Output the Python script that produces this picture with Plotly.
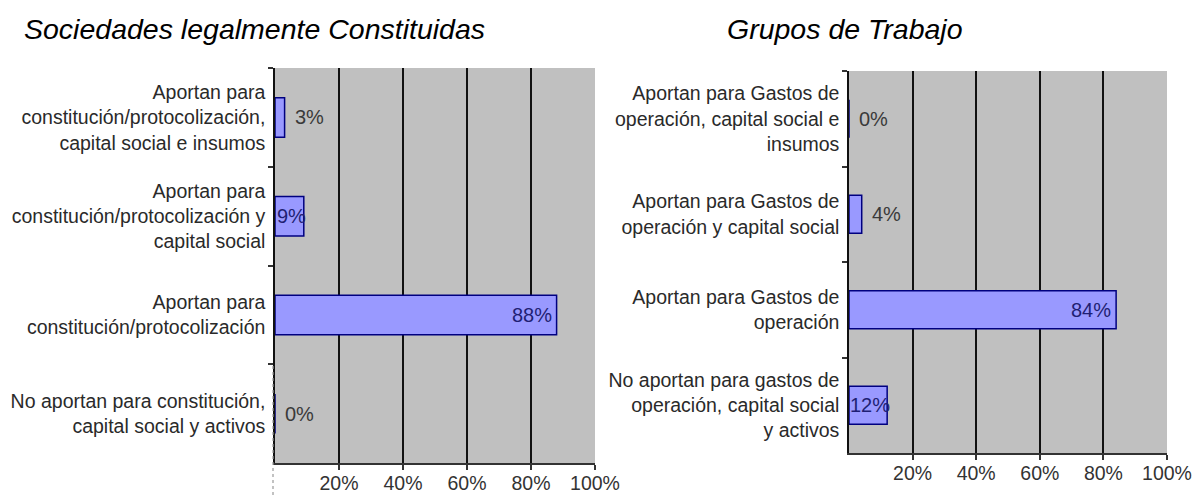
import plotly.graph_objects as go

# --- data -------------------------------------------------------------
title_left = "Sociedades legalmente Constituidas"
title_right = "Grupos de Trabajo"

cats_left = [
    "Aportan para<br>constitución/protocolización,<br>capital social e insumos",
    "Aportan para<br>constitución/protocolización y<br>capital social",
    "Aportan para<br>constitución/protocolización",
    "No aportan para constitución,<br>capital social y activos",
]
vals_left = [3, 9, 88, 0]

cats_right = [
    "Aportan para Gastos de<br>operación, capital social e<br>insumos",
    "Aportan para Gastos de<br>operación y capital social",
    "Aportan para Gastos de<br>operación",
    "No aportan para gastos de<br>operación, capital social<br>y activos",
]
vals_right = [0, 4, 84, 12]

tick_vals = [20, 40, 60, 80, 100]
tick_text = ["20%", "40%", "60%", "80%", "100%"]

# --- styling ----------------------------------------------------------
W, H = 1195, 497
SANS = "Liberation Sans, Arial, sans-serif"
PLOT_BG = "#c0c0c0"
BAR_FILL = "#9999ff"
BAR_LINE = "#000080"


def px_x(a, b):
    return [a / W, b / W]


def px_y(top, bottom):
    return [1 - bottom / H, 1 - top / H]


fig = go.Figure()

fig.add_trace(go.Bar(
    x=vals_left, y=cats_left, orientation="h", width=0.4,
    marker=dict(color=BAR_FILL, line=dict(color=BAR_LINE, width=1.5)),
    xaxis="x", yaxis="y", hoverinfo="skip", showlegend=False,
))
fig.add_trace(go.Bar(
    x=vals_right, y=cats_right, orientation="h", width=0.4,
    marker=dict(color=BAR_FILL, line=dict(color=BAR_LINE, width=1.5)),
    xaxis="x2", yaxis="y2", hoverinfo="skip", showlegend=False,
))


def value_labels(cats, vals, xref, yref):
    out = []
    for c, v in zip(cats, vals):
        txt = f"{v}%"
        if v >= 20:
            x, anchor, shift, col = v, "right", -3, "#1f1f73"
        elif v >= 5:
            x, anchor, shift, col = v / 2, "center", 2, "#1f1f73"
        else:
            x, anchor, shift, col = v, "left", 8, "#3a3a3a"
        out.append(dict(
            x=x, y=c, xref=xref, yref=yref, text=txt, showarrow=False,
            xanchor=anchor, xshift=shift, yanchor="middle",
            font=dict(family=SANS, size=20, color=col),
        ))
    return out


annotations = value_labels(cats_left, vals_left, "x", "y") + \
    value_labels(cats_right, vals_right, "x2", "y2")

annotations += [
    dict(x=22 / W, y=1 - 29 / H, xref="paper", yref="paper", text=title_left,
         showarrow=False, xanchor="left", yanchor="middle",
         font=dict(family=SANS, size=28.5, color="#000000", style="italic")),
    dict(x=725 / W, y=1 - 29 / H, xref="paper", yref="paper", text=title_right,
         showarrow=False, xanchor="left", yanchor="middle",
         font=dict(family=SANS, size=28.5, color="#000000", style="italic")),
]

xaxis_common = dict(
    range=[0, 100], tickvals=tick_vals, ticktext=tick_text,
    showgrid=False, zeroline=False, automargin=False,
    minor=dict(tickvals=[20, 40, 60, 80], showgrid=True,
               gridcolor="#111111", gridwidth=1.5, ticks=""),
    showline=True, linecolor="#333333", linewidth=2,
    ticks="outside", ticklen=5, tickcolor="#333333", tickwidth=1.5,
    ticklabelstandoff=-3,
    tickfont=dict(family=SANS, size=19.5, color="#333333"),
    fixedrange=True,
)
yaxis_common = dict(
    autorange="reversed", showgrid=False, zeroline=False, automargin=False,
    showline=True, linecolor="#111111", linewidth=1.5,
    ticks="outside", tickson="boundaries", ticklen=5, tickcolor="#333333",
    tickwidth=1.5, ticklabelstandoff=4,
    tickfont=dict(family=SANS, size=19.5, color="#2a2a2a"),
    fixedrange=True,
)

fig.update_layout(
    width=W, height=H,
    margin=dict(l=0, r=0, t=0, b=0),
    paper_bgcolor="#ffffff",
    plot_bgcolor=PLOT_BG,
    barmode="overlay",
    xaxis=dict(domain=px_x(275, 595), anchor="y", **xaxis_common),
    yaxis=dict(domain=px_y(68, 463), anchor="x", **yaxis_common),
    xaxis2=dict(domain=px_x(849, 1167), anchor="y2", **xaxis_common),
    yaxis2=dict(domain=px_y(71, 453), anchor="x2", **yaxis_common),
    annotations=annotations,
    shapes=[
        # faint dotted selection edge beside the lower-left category
        dict(type="line", xref="paper", yref="paper",
             x0=273 / W, x1=273 / W, y0=1 - 495 / H, y1=1 - 363 / H,
             line=dict(color="#9a9a9a", width=1.2, dash="dot"), layer="above"),
    ],
)

fig.write_html("out.html")
